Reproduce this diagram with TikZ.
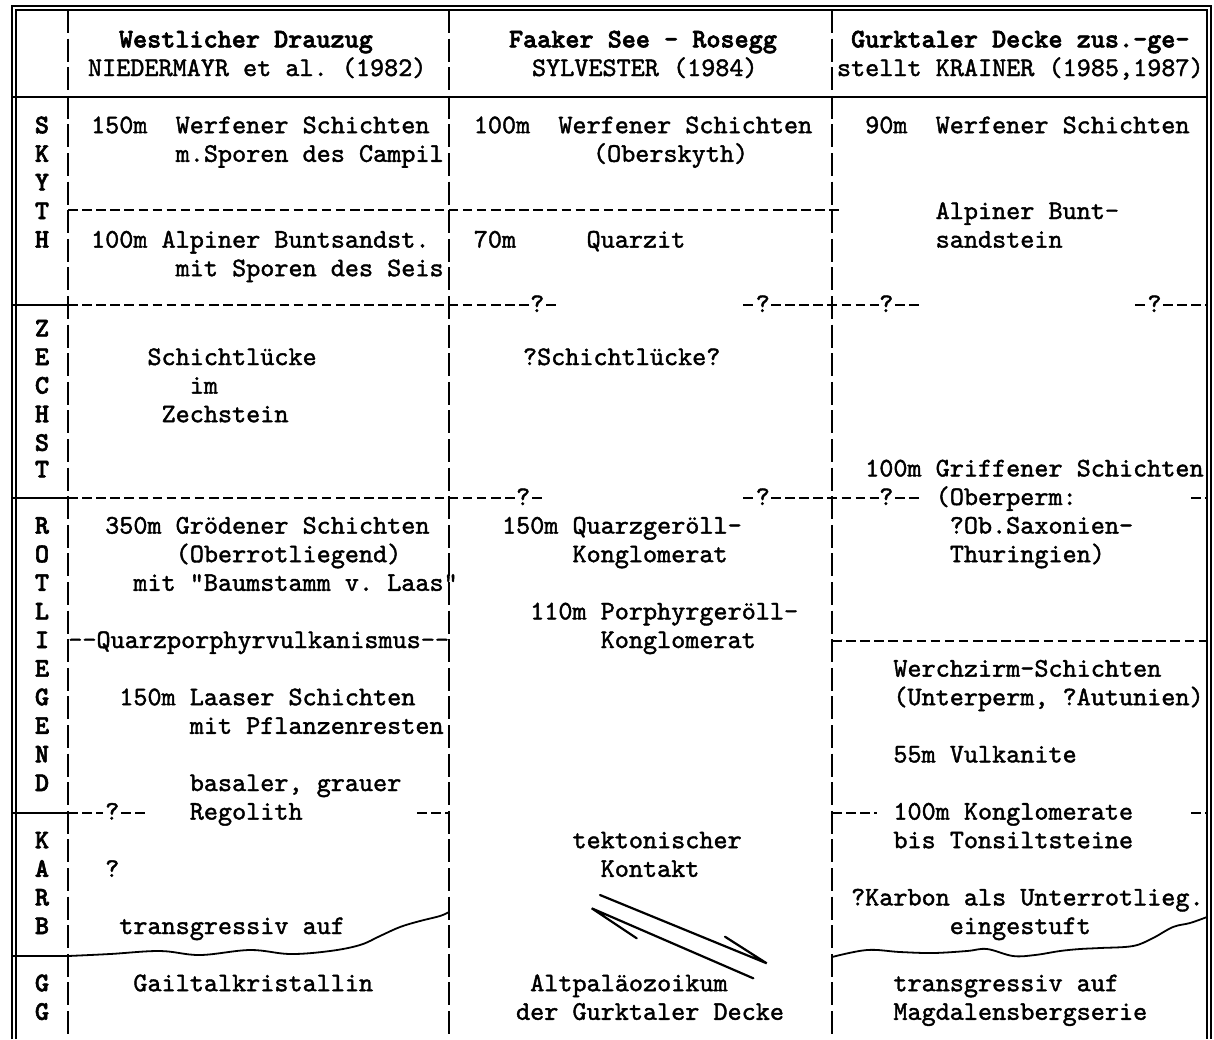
\documentclass[tikz,border=0pt]{standalone}
\usepackage{fontspec}
\setmonofont{lmmono10-regular}[Extension=.otf,UprightFeatures={FakeBold=1.5},BoldFont={lmmonolt10-bold},BoldFeatures={FakeBold=2.2}]
\frenchspacing
\begin{document}
\begin{tikzpicture}[x=1pt,y=-1pt,
  t/.style={anchor=base west,inner sep=0pt,outer sep=0pt,font=\ttfamily\fontsize{26.86}{28}\selectfont},
  tb/.style={t,font=\ttfamily\bfseries\fontsize{26.86}{28}\selectfont},
  lab/.style={anchor=base,inner sep=0pt,outer sep=0pt,font=\ttfamily\bfseries\fontsize{26.86}{28}\selectfont},
  rule/.style={line width=1.8pt},
  hdash/.style={line width=2pt,dash pattern=on 9.5pt off 4.6pt},
  vdash/.style={line width=1.6pt,dash pattern=on 23pt off 5.6pt},
  wave/.style={line width=1.8pt},
  tect/.style={line width=2.2pt,line cap=round}]
\fill[white] (0,0) rectangle (1214,1039);
\useasboundingbox (0,0) rectangle (1214,1039);
% frame
\draw[line width=1.3pt] (12,1039) -- (12,6) -- (1211,6) -- (1211,1039);
\draw[rule] (16,1039) -- (16,10) -- (1207,10) -- (1207,1039);
\draw[rule] (12,97) -- (1207,97);
\draw[vdash] (68,10) -- (68,1039);
\draw[vdash] (449,10) -- (449,1039);
\draw[vdash] (832,10) -- (832,1039);
% label column short rules
\draw[rule] (12,305) -- (68,305);
\draw[rule] (12,498) -- (68,498);
\draw[rule] (12,812.6) -- (68,812.6);
\draw[rule] (12,956) -- (68,956);
% row 6 dashed
\draw[hdash] (68,210) -- (840,210);
% row 9 dashed
\draw[hdash] (68,305) -- (530,305);
\node[t] (q9a) at (530.2,312) {?};
\draw[hdash] (546,305) -- (556,305);
\draw[hdash] (743,305) -- (753,305);
\node[t] (q9b) at (755.8,312) {?};
\draw[hdash] (771,305) -- (879,305);
\node[t] (q9c) at (879.3,312) {?};
\draw[hdash] (895,305) -- (919,305);
\draw[hdash] (1135,305) -- (1145,305);
\node[t] (q9d) at (1147.4,312) {?};
\draw[hdash] (1163,305) -- (1207,305);
% row 16 dashed
\draw[hdash] (68,498) -- (516,498);
\node[t] (q16a) at (516.1,505) {?};
\draw[hdash] (532,498) -- (542,498);
\draw[hdash] (743,498) -- (753,498);
\node[t] (q16b) at (755.8,505) {?};
\draw[hdash] (771,498) -- (879,498);
\node[t] (q16c) at (879.3,505) {?};
\draw[hdash] (895,498) -- (919,498);
\draw[hdash] (1191,498) -- (1207,498);
% row 21 col 3
\draw[hdash] (832,641) -- (1207,641);
% row 27
\draw[hdash] (68,812.6) -- (103,812.6);
\node[t] (q27a) at (105.2,819.6) {?};
\draw[hdash] (121,812.6) -- (145,812.6);
\draw[hdash] (417,812.6) -- (449,812.6);
\draw[hdash] (832,812.6) -- (877,812.6);
\draw[hdash] (1191,812.6) -- (1207,812.6);
% wavy unconformities
\draw[wave] plot[smooth,tension=0.6] coordinates {(68,956) (110,954) (160,951) (200,955) (250,950) (290,954) (330,951) (360,945) (380,936) (400,927) (420,921) (440,916) (449,912)};
\draw[wave] plot[smooth,tension=0.6] coordinates {(832,957) (867,950) (900,952) (933,953) (967,951) (987,949) (1013,956) (1035,955) (1060,951) (1080,949) (1100,948) (1133,946) (1153,938) (1173,927) (1190,923) (1207,917)};
% tectonic contact
\draw[tect] (600,895) -- (766.7,963.3) -- (725,936.7);
\draw[tect] (636.7,938.3) -- (591.7,908.3) -- (753.3,978.3);
% label column
\node[lab] (lS1) at (42,133.2) {S};
\node[lab] (lK1) at (42,161.8) {K};
\node[lab] (lY1) at (42,190.4) {Y};
\node[lab] (lT1) at (42,219.0) {T};
\node[lab] (lH1) at (42,247.6) {H};
\node[lab] (lZ2) at (42,336.4) {Z};
\node[lab] (lE2) at (42,365.0) {E};
\node[lab] (lC2) at (42,393.6) {C};
\node[lab] (lH2) at (42,422.2) {H};
\node[lab] (lS2) at (42,450.8) {S};
\node[lab] (lT2) at (42,477.4) {T};
\node[lab] (lR3) at (42,533.6) {R};
\node[lab] (lO3) at (42,562.2) {O};
\node[lab] (lT3) at (42,590.8) {T};
\node[lab] (lL3) at (42,619.4) {L};
\node[lab] (lI3) at (42,648.0) {I};
\node[lab] (lE3) at (42,676.6) {E};
\node[lab] (lG3) at (42,705.2) {G};
\node[lab] (lE3b) at (42,733.8) {E};
\node[lab] (lN3) at (42,762.4) {N};
\node[lab] (lD3) at (42,791.0) {D};
\node[lab] (lK4) at (42,848.2) {K};
\node[lab] (lA4) at (42,876.8) {A};
\node[lab] (lR4) at (42,905.4) {R};
\node[lab] (lB4) at (42,934.0) {B};
\node[lab] (lG5) at (42,991.2) {G};
\node[lab] (lG5b) at (42,1019.8) {G};
% column 1
\node[tb] (h1a) at (119,47.4) {Westlicher Drauzug};
\node[t] (h1b) at (88,76.0) {NIEDERMAYR et al. (1982)};
\node[t] (a1) at (91.1,133.2) {150m\ \ Werfener Schichten};
\node[t] (a2) at (175.7,161.8) {m.Sporen des Campil};
\node[t] (a3) at (91.1,247.6) {100m Alpiner Buntsandst.};
\node[t] (a4) at (175.7,276.2) {mit Sporen des Seis};
\node[t] (a5) at (147.5,365.0) {Schichtlücke};
\node[t] (a6) at (189.8,393.6) {im};
\node[t] (a7) at (161.6,422.2) {Zechstein};
\node[t] (a8) at (105.2,533.6) {350m Grödener Schichten};
\node[t] (a9) at (175.7,562.2) {(Oberrotliegend)};
\node[t] (a10) at (133.4,590.8) {mit "Baumstamm v. Laas"};
\node[t] (a11) at (68.3,648.0) {--Quarzporphyrvulkanismus--};
\node[t] (a12) at (119.3,705.2) {150m Laaser Schichten};
\node[t] (a13) at (189.8,733.8) {mit Pflanzenresten};
\node[t] (a14) at (189.8,791.0) {basaler, grauer};
\node[t] (a15) at (189.8,819.6) {Regolith};
\node[t] (a16) at (105.2,876.8) {?};
\node[t] (a17) at (119.3,934.0) {transgressiv auf};
\node[t] (a18) at (133.4,991.2) {Gailtalkristallin};
% column 2
\node[tb] (h2a) at (509,47.4) {Faaker See - Rosegg};
\node[t] (h2b) at (532,76.0) {SYLVESTER (1984)};
\node[t] (b1) at (473.8,133.2) {100m\ \ Werfener Schichten};
\node[t] (b2) at (593,161.8) {(Oberskyth)};
\node[t] (b3) at (473.8,247.6) {70m};
\node[t] (b3q) at (586.6,247.6) {Quarzit};
\node[t] (b4) at (523,365.0) {?Schichtlücke?};
\node[t] (b5) at (502,533.6) {150m Quarzgeröll-};
\node[t] (b6) at (572.5,562.2) {Konglomerat};
\node[t] (b7) at (530.2,619.4) {110m Porphyrgeröll-};
\node[t] (b8) at (600.7,648.0) {Konglomerat};
\node[t] (b9) at (572.5,848.2) {tektonischer};
\node[t] (b10) at (600.7,876.8) {Kontakt};
\node[t] (b11) at (530.2,991.2) {Altpaläozoikum};
\node[t] (b12) at (516.1,1019.8) {der Gurktaler Decke};
% column 3
\node[tb] (h3a) at (851.1,47.4) {Gurktaler Decke zus.-ge-};
\node[t] (h3b) at (837,76.0) {stellt KRAINER (1985,1987)};
\node[t] (c1) at (865.2,133.2) {90m\ \ Werfener Schichten};
\node[t] (c2) at (935.7,219.0) {Alpiner Bunt-};
\node[t] (c3) at (935.7,247.6) {sandstein};
\node[t] (c4) at (865.2,476.4) {100m Griffener Schichten};
\node[t] (c5) at (935.7,505.0) {(Oberperm:};
\node[t] (c6) at (949.8,533.6) {?Ob.Saxonien-};
\node[t] (c7) at (949.8,562.2) {Thuringien)};
\node[t] (c8) at (893.4,676.6) {Werchzirm-Schichten};
\node[t] (c9) at (893.4,705.2) {(Unterperm, ?Autunien)};
\node[t] (c10) at (893.4,762.4) {55m Vulkanite};
\node[t] (c11) at (893.4,819.6) {100m Konglomerate};
\node[t] (c12) at (893.4,848.2) {bis Tonsiltsteine};
\node[t] (c13) at (851.1,905.4) {?Karbon als Unterrotlieg.};
\node[t] (c14) at (949.8,934.0) {eingestuft};
\node[t] (c15) at (893.4,991.2) {transgressiv auf};
\node[t] (c16) at (893.4,1019.8) {Magdalensbergserie};
\end{tikzpicture}
\end{document}
